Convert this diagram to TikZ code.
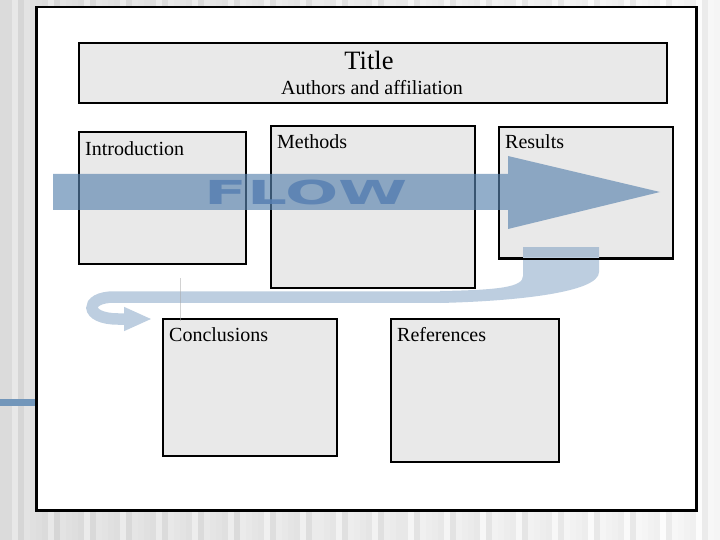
\documentclass[tikz,border=0pt]{standalone}
\usepackage{fontspec}
\setmainfont{Liberation Serif}
\newfontfamily\flowfont{DejaVu Sans}
\usetikzlibrary{arrows.meta}
\definecolor{boxgray}{HTML}{E9E9E9}
\definecolor{flowblue}{RGB}{89,131,174}
\definecolor{bandblue}{HTML}{BDCEE0}
\definecolor{bandover}{HTML}{AEC0D3}
\definecolor{flowtext}{RGB}{88,128,178}
\tikzset{
  panel/.style={draw=black, line width=2pt, fill=boxgray, rectangle, inner sep=0pt, anchor=north west},
  lbl/.style={font=\fontsize{20}{22}\selectfont, inner sep=0pt, anchor=base west},
}
\begin{document}
\begin{tikzpicture}[x=1pt,y=-1pt]
\useasboundingbox (0,0) rectangle (720,540);
% striped background
\foreach \i in {0,...,119}{
  \pgfmathsetmacro\g{int(14 - 9*\i/119 + 3*mod(\i,2) - 2*mod(\i,3))}
  \fill[black!\g] (6*\i,0) rectangle ++(6,540);
}
\fill[flowblue!85] (0,399) rectangle (36,406);
% white frame
\node[draw=black, line width=2.5pt, fill=white, anchor=north west, minimum width=660pt, minimum height=503pt, inner sep=0pt] (frame) at (35,6) {};
% panels
\node[panel, minimum width=588pt, minimum height=60pt] (title) at (78,42) {};
\node[panel, minimum width=167pt, minimum height=132pt] (intro) at (78,131) {};
\node[panel, minimum width=204pt, minimum height=162pt] (methods) at (270,125) {};
\node[panel, minimum width=174pt, minimum height=131pt] (results) at (498,126) {};
\node[panel, minimum width=174pt, minimum height=137pt] (concl) at (162,318) {};
\node[panel, minimum width=168pt, minimum height=143pt] (refs) at (390,318) {};
% labels
\node[font=\fontsize{26.5}{28}\selectfont, inner sep=0pt, anchor=base] (ttl) at (369,70) {Title};
\node[font=\fontsize{20}{22}\selectfont, inner sep=0pt, anchor=base] (auth) at (372,95) {Authors and affiliation};
\node[lbl] (lintro) at (85,156) {Introduction};
\node[lbl] (lmeth) at (277,149) {Methods};
\node[lbl] (lres) at (505,149) {Results};
\node[lbl] (lconc) at (169,341) {Conclusions};
\node[lbl] (lref) at (397,341) {References};
% curved return band
\fill[bandblue] (523,247) -- (599,247) -- (599,272) .. controls (599,292) and (520,301) .. (440,303) -- (440,291) .. controls (500,290) and (523,287) .. (523,276) -- cycle;
\fill[bandover] (523,247) rectangle (599,257);
\draw[line width=2pt] (results.south west) -- (results.south east);
\coordinate (bstart) at (445,297);
\coordinate (bend) at (152,319);
\draw[bandblue, line width=11.5pt, -{Triangle[length=28pt,width=22pt]}] (bstart) -- (114,297) .. controls (84,297) and (84,319) .. (118,319) -- (bend);
\coordinate (sl1) at (180,278);
\coordinate (sl2) at (180,321);
\draw[black!35, opacity=0.5, line width=0.9pt] (sl1) -- (sl2);
% FLOW arrow
\fill[flowblue, opacity=0.65] (53,174) -- (508,174) -- (508,156) -- (660,192) -- (508,229) -- (508,210) -- (53,210) -- cycle;
\node[inner sep=0pt, text=flowtext, opacity=0.85] (flow) at (306,192) {\scalebox{1.9}[1]{\flowfont\bfseries\fontsize{33}{34}\selectfont FLOW}};
\end{tikzpicture}
\end{document}
